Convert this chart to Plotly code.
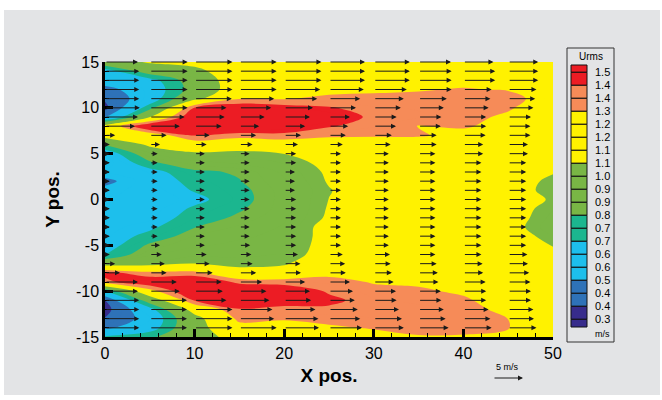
import plotly.graph_objects as go

# ---------------- data ----------------
X_POS = [0, 5, 10, 15, 20, 25, 30, 35, 40, 45, 50]
Y_POS = [15, 14, 13, 12, 11, 10, 9, 8, 7, 6, 5, 4, 3, 2, 1, 0,
         -1, -2, -3, -4, -5, -6, -7, -8, -9, -10, -11, -12, -13, -14, -15]

# Urms (m/s), rows follow Y_POS (top to bottom), columns follow X_POS
URMS = [
    [0.95, 1.08, 1.12, 1.20, 1.20, 1.20, 1.20, 1.20, 1.20, 1.20, 1.20],
    [0.60, 0.90, 1.00, 1.20, 1.20, 1.22, 1.22, 1.22, 1.23, 1.22, 1.20],
    [0.55, 0.62, 0.90, 1.20, 1.22, 1.25, 1.25, 1.25, 1.27, 1.25, 1.20],
    [0.45, 0.57, 0.88, 1.20, 1.25, 1.27, 1.29, 1.30, 1.32, 1.30, 1.22],
    [0.38, 0.58, 1.00, 1.30, 1.30, 1.34, 1.34, 1.35, 1.36, 1.37, 1.22],
    [0.33, 0.75, 1.45, 1.55, 1.50, 1.45, 1.38, 1.37, 1.37, 1.33, 1.20],
    [0.45, 1.05, 1.60, 1.65, 1.60, 1.55, 1.40, 1.38, 1.36, 1.28, 1.20],
    [1.15, 1.60, 1.55, 1.60, 1.55, 1.45, 1.38, 1.305, 1.33, 1.25, 1.20],
    [1.15, 1.20, 1.45, 1.38, 1.40, 1.34, 1.33, 1.33, 1.25, 1.20, 1.20],
    [0.82, 1.10, 1.20, 1.15, 1.20, 1.20, 1.20, 1.20, 1.20, 1.18, 1.20],
    [0.57, 0.92, 1.03, 1.02, 1.06, 1.12, 1.18, 1.20, 1.20, 1.18, 1.20],
    [0.50, 0.78, 0.90, 0.95, 1.00, 1.10, 1.15, 1.18, 1.18, 1.16, 1.18],
    [0.56, 0.62, 0.78, 0.82, 0.95, 1.08, 1.15, 1.16, 1.16, 1.15, 1.07],
    [0.45, 0.60, 0.72, 0.80, 0.92, 1.07, 1.15, 1.15, 1.15, 1.15, 1.02],
    [0.53, 0.58, 0.69, 0.77, 0.90, 1.05, 1.15, 1.15, 1.15, 1.15, 1.00],
    [0.55, 0.57, 0.64, 0.76, 0.90, 1.06, 1.15, 1.15, 1.15, 1.15, 1.04],
    [0.57, 0.58, 0.70, 0.79, 0.90, 1.07, 1.15, 1.15, 1.15, 1.14, 1.00],
    [0.58, 0.60, 0.74, 0.83, 0.92, 1.08, 1.15, 1.15, 1.15, 1.14, 0.97],
    [0.59, 0.65, 0.80, 0.88, 0.94, 1.12, 1.15, 1.15, 1.15, 1.13, 0.94],
    [0.60, 0.72, 0.87, 0.92, 0.95, 1.12, 1.15, 1.15, 1.15, 1.15, 1.00],
    [0.60, 0.83, 0.92, 0.95, 0.97, 1.12, 1.15, 1.15, 1.15, 1.15, 1.05],
    [0.66, 0.92, 0.98, 0.98, 1.00, 1.12, 1.16, 1.16, 1.16, 1.16, 1.10],
    [0.95, 1.00, 1.06, 1.02, 1.04, 1.20, 1.18, 1.18, 1.18, 1.18, 1.18],
    [1.48, 1.35, 1.35, 1.12, 1.15, 1.27, 1.22, 1.20, 1.18, 1.18, 1.18],
    [1.40, 1.55, 1.60, 1.40, 1.38, 1.36, 1.30, 1.29, 1.22, 1.18, 1.18],
    [0.65, 1.25, 1.60, 1.60, 1.55, 1.42, 1.35, 1.33, 1.29, 1.20, 1.18],
    [0.36, 0.90, 1.45, 1.60, 1.50, 1.47, 1.38, 1.36, 1.33, 1.24, 1.18],
    [0.32, 0.62, 1.15, 1.42, 1.40, 1.41, 1.40, 1.39, 1.36, 1.27, 1.18],
    [0.37, 0.55, 0.98, 1.35, 1.33, 1.35, 1.37, 1.38, 1.37, 1.31, 1.18],
    [0.46, 0.60, 0.97, 1.25, 1.22, 1.29, 1.32, 1.35, 1.34, 1.315, 1.20],
    [0.70, 0.78, 0.95, 1.15, 1.18, 1.22, 1.27, 1.30, 1.30, 1.28, 1.20],
]

# velocity vectors: columns and rows, horizontal velocity U (m/s)
VEC_X = [0, 5, 10, 15, 20, 25, 30, 35, 40, 45]
VEC_Y = [15, 14, 13, 12, 11, 10, 9, 8, 7, 6, 5, 4, 3, 2, 1, 0,
         -1, -2, -3, -4, -5, -6, -7, -8, -9, -10, -11, -12, -13, -14]
VEL_U = [
    [5.5, 6.3, 6.3, 6.2, 6.2, 6.0, 6.0, 5.4, 5.0, 5.0],
    [5.7, 6.3, 6.3, 6.2, 6.2, 6.0, 6.0, 5.5, 5.3, 5.0],
    [5.7, 6.3, 6.3, 6.2, 6.2, 6.0, 6.0, 5.5, 5.3, 5.0],
    [5.7, 6.3, 6.3, 6.2, 6.0, 5.8, 5.5, 5.5, 4.7, 4.7],
    [5.7, 6.3, 6.2, 5.8, 5.5, 5.2, 5.0, 4.7, 4.5, 4.5],
    [5.8, 6.3, 5.3, 5.3, 4.8, 4.5, 4.5, 4.2, 4.2, 4.2],
    [5.5, 5.8, 5.0, 4.2, 4.3, 3.5, 3.8, 3.8, 3.8, 3.8],
    [5.0, 5.0, 4.5, 3.3, 3.5, 3.2, 3.7, 3.7, 3.8, 3.7],
    [1.7, 2.8, 2.5, 2.8, 2.8, 2.8, 3.0, 3.0, 3.7, 3.7],
    [0.8, 1.7, 2.0, 2.2, 2.3, 2.3, 2.8, 3.0, 3.3, 3.3],
    [0.8, 1.3, 1.7, 1.7, 2.0, 2.0, 2.5, 2.8, 3.3, 3.3],
    [0.8, 1.3, 1.7, 1.7, 2.0, 2.0, 2.5, 2.8, 3.0, 3.0],
    [0.8, 1.3, 1.7, 1.7, 1.8, 2.0, 2.5, 2.8, 3.0, 3.0],
    [0.8, 1.3, 1.7, 1.7, 1.8, 2.0, 2.5, 2.8, 3.0, 3.0],
    [0.8, 1.3, 1.7, 1.7, 1.8, 2.0, 2.5, 2.8, 3.0, 3.0],
    [0.8, 1.3, 1.7, 1.7, 2.0, 2.0, 2.5, 2.8, 3.0, 3.0],
    [0.8, 1.3, 1.7, 1.7, 2.0, 2.0, 2.5, 2.8, 3.0, 3.0],
    [0.8, 1.3, 1.7, 1.7, 2.0, 2.0, 2.5, 2.8, 3.0, 3.0],
    [0.8, 1.3, 1.7, 1.7, 2.0, 2.0, 2.5, 2.8, 3.0, 3.0],
    [0.8, 1.3, 1.7, 1.7, 2.0, 2.0, 2.5, 2.8, 3.0, 3.0],
    [0.8, 1.7, 1.7, 1.8, 2.0, 2.0, 2.5, 2.8, 3.0, 3.0],
    [0.8, 2.0, 2.0, 2.0, 2.3, 2.3, 2.7, 2.8, 3.0, 3.2],
    [1.7, 2.5, 2.5, 2.2, 2.7, 2.7, 2.8, 3.0, 3.2, 3.3],
    [2.5, 2.8, 3.0, 2.8, 2.8, 2.8, 3.0, 3.2, 3.3, 3.5],
    [5.5, 4.5, 4.5, 3.8, 3.5, 3.5, 3.3, 3.3, 3.7, 3.7],
    [5.5, 5.0, 4.7, 4.5, 4.3, 4.0, 3.7, 3.7, 3.8, 3.8],
    [5.7, 6.2, 5.3, 5.0, 4.5, 4.3, 3.8, 3.8, 3.8, 3.8],
    [5.7, 6.2, 6.3, 5.5, 5.2, 4.8, 4.2, 4.2, 4.2, 4.2],
    [5.7, 6.2, 6.3, 5.8, 5.7, 5.2, 4.7, 4.5, 4.5, 4.3],
    [5.7, 6.2, 6.3, 6.2, 5.8, 5.5, 5.0, 5.0, 4.7, 4.7],
]
REF_SPEED = 5  # m/s, reference vector

# contour levels (legend), labels as printed on the legend
LEVELS = [0.3, 0.3632, 0.4263, 0.4895, 0.5526, 0.6158, 0.6789, 0.7421,
          0.8053, 0.8684, 0.9316, 0.9947, 1.0579, 1.1211, 1.1842, 1.2474,
          1.3105, 1.3737, 1.4368, 1.5]
LEVEL_LABELS = ["0.3", "0.4", "0.4", "0.5", "0.6", "0.6", "0.7", "0.7",
                "0.8", "0.9", "0.9", "1.0", "1.1", "1.1", "1.2", "1.2",
                "1.3", "1.4", "1.4", "1.5"]
X_TICKS = [0, 10, 20, 30, 40, 50]
Y_TICKS = [-15, -10, -5, 0, 5, 10, 15]
Y_TICK_TEXT = ["-15", "-10", "-5", "0", "5", "10", "15"]

# ---------------- style ----------------
NAVY, BLUE, LBLUE = "#372c8c", "#2e72b8", "#1dbfec"
TEAL, GREEN, YELLOW = "#1bb68f", "#79b645", "#fff200"
ORANGE, RED = "#f68b58", "#ec1c24"
# one colour per band, from below the first level to above the last one
BAND_COLORS = [NAVY, NAVY, BLUE, BLUE, LBLUE, LBLUE, LBLUE, TEAL, TEAL,
               GREEN, GREEN, GREEN, GREEN, YELLOW, YELLOW, YELLOW, YELLOW,
               ORANGE, ORANGE, RED, RED]
BG = "#e3e4e6"
FONT = "Liberation Sans, Arial, Helvetica, sans-serif"
ARROW_SCALE = 0.67  # x-units per m/s
ARROW_COLOR = "#1a1a1a"

W, H = 662, 400
L_PX, R_PX, T_PX, B_PX = 105, 553, 62, 337
PX_PER_X = (R_PX - L_PX) / 50.0


def px_x(px):
    return (px - L_PX) / (R_PX - L_PX)


def px_y(py):
    return (B_PX - py) / (B_PX - T_PX)


nb = len(BAND_COLORS) - 1
colorscale = [[j / nb, c] for j, c in enumerate(BAND_COLORS)]

fig = go.Figure()
fig.add_trace(go.Contour(
    x=X_POS, y=Y_POS[::-1], z=URMS[::-1],
    autocontour=False,
    contours=dict(start=LEVELS[0], end=LEVELS[-1],
                  size=(LEVELS[-1] - LEVELS[0]) / (len(LEVELS) - 1),
                  coloring="fill", showlines=False),
    colorscale=colorscale, showscale=False,
    line=dict(width=0), hoverinfo="skip",
))

annotations = []
for i, yv in enumerate(VEC_Y):
    for j, xv in enumerate(VEC_X):
        u = VEL_U[i][j]
        annotations.append(dict(
            x=xv + u * ARROW_SCALE, y=yv, ax=xv, ay=yv,
            xref="x", yref="y", axref="x", ayref="y",
            text="", showarrow=True, arrowhead=2, arrowsize=1.0,
            arrowwidth=1, arrowcolor=ARROW_COLOR, standoff=0, startstandoff=0))

# reference vector below the plot (length scaled like the data vectors)
ref_len_px = REF_SPEED * ARROW_SCALE * PX_PER_X
annotations.append(dict(x=px_x(493 + ref_len_px), y=px_y(378),
                        xref="paper", yref="paper", ax=-ref_len_px, ay=0,
                        axref="pixel", ayref="pixel", text="",
                        showarrow=True, arrowhead=2, arrowsize=1.0, arrowwidth=1,
                        arrowcolor=ARROW_COLOR, standoff=0))
annotations.append(dict(x=px_x(507), y=px_y(367), xref="paper", yref="paper",
                        text=f"{REF_SPEED} m/s", showarrow=False,
                        xanchor="center", yanchor="middle",
                        font=dict(size=9, color="black", family=FONT)))

shapes = [dict(type="rect", xref="paper", yref="paper", layer="below",
               x0=px_x(4), x1=px_x(660), y0=px_y(395), y1=px_y(10),
               fillcolor=BG, line=dict(width=0))]

# legend (Tecplot style)
shapes.append(dict(type="rect", xref="paper", yref="paper",
                   x0=px_x(567), x1=px_x(614), y0=px_y(342), y1=px_y(48),
                   fillcolor=BG, line=dict(color="#333", width=1)))
top_px, bot_px, first_lab, step = 65, 327, 72.3, 13.0
n = len(LEVELS)
bounds = [top_px] + [first_lab + step * k for k in range(n)] + [bot_px]
for b in range(len(bounds) - 1):
    col = BAND_COLORS[nb - b]
    shapes.append(dict(type="rect", xref="paper", yref="paper",
                       x0=px_x(571), x1=px_x(587),
                       y0=px_y(bounds[b + 1]), y1=px_y(bounds[b]),
                       fillcolor=col, line=dict(color="#111", width=1)))
for k in range(n):
    annotations.append(dict(xref="paper", yref="paper", x=px_x(593),
                            y=px_y(first_lab + step * k), xanchor="left",
                            yanchor="middle", showarrow=False,
                            text=LEVEL_LABELS[n - 1 - k],
                            font=dict(size=11, color="black", family=FONT)))
annotations.append(dict(xref="paper", yref="paper", x=px_x(590.5), y=px_y(56),
                        text="Urms", showarrow=False, xanchor="center",
                        yanchor="middle",
                        font=dict(size=10, color="black", family=FONT)))
annotations.append(dict(xref="paper", yref="paper", x=px_x(612), y=px_y(334),
                        text="m/s", showarrow=False, xanchor="right",
                        yanchor="middle",
                        font=dict(size=9, color="black", family=FONT)))

axis_common = dict(showgrid=False, zeroline=False, showline=True,
                   linecolor="black", linewidth=2.5, ticks="inside",
                   ticklen=8, tickwidth=2.5, tickcolor="black", mirror=False,
                   tickfont=dict(size=16, color="black", family=FONT))

fig.update_layout(
    width=W, height=H,
    margin=dict(l=L_PX, r=W - R_PX, t=T_PX, b=H - B_PX, pad=0),
    paper_bgcolor="white", plot_bgcolor="rgba(0,0,0,0)",
    xaxis=dict(range=[0, 50], tickmode="array", tickvals=X_TICKS,
               minor=dict(ticks="inside", ticklen=4, tickwidth=1,
                          tickcolor="black", dtick=2, showgrid=False),
               title=dict(text="<b>X pos.</b>", standoff=8,
                          font=dict(size=19, color="black", family=FONT)),
               **axis_common),
    yaxis=dict(range=[-15, 15], tickmode="array", tickvals=Y_TICKS,
               ticktext=Y_TICK_TEXT,
               minor=dict(ticks="inside", ticklen=4, tickwidth=1,
                          tickcolor="black", tick0=0, dtick=1, showgrid=False),
               title=dict(text="<b>Y pos.</b>", standoff=12,
                          font=dict(size=19, color="black", family=FONT)),
               **axis_common),
    shapes=shapes, annotations=annotations, showlegend=False,
)

fig.write_html("out.html",
               config={"displayModeBar": False},
               post_script="document.body.style.margin='0';"
                           "document.body.style.overflow='hidden';")
